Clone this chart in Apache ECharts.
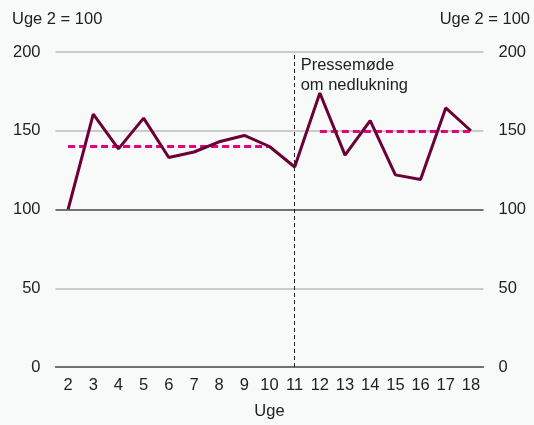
<!DOCTYPE html>
<html>
<head>
<meta charset="utf-8">
<script src="https://cdn.jsdelivr.net/npm/echarts@6/dist/echarts.min.js"></script>
<style>
html, body { margin: 0; padding: 0; background: #f8fafa; }
#chart { width: 534px; height: 425px; }
</style>
</head>
<body>
<div id="chart"></div>
<script>
// uger og indeks (uge 2 = 100)
var weeks = ['2', '3', '4', '5', '6', '7', '8', '9', '10', '11', '12', '13', '14', '15', '16', '17', '18'];
var index = [100, 160.5, 138.5, 158, 133, 136.5, 143, 147, 140, 127, 174, 134.5, 156.5, 122, 119, 164.5, 150];
// gennemsnit før og efter pressemødet
var avgBefore = [140, 140, 140, 140, 140, 140, 140, 140, 140, null, null, null, null, null, null, null, null];
var avgAfter = [null, null, null, null, null, null, null, null, null, null, 149.5, 149.5, 149.5, 149.5, 149.5, 149.5, 149.5];
var yTicks = [0, 50, 100, 150, 200];
var eventWeek = '11';
var eventLabel = 'Pressemøde\nom nedlukning';

var font = 'Liberation Sans, Arial, sans-serif';
var txt = '#222';
var fs = 16.5;

var chart = echarts.init(document.getElementById('chart'));

function yAxisCfg(pos) {
    return {
        type: 'value',
        position: pos,
        min: yTicks[0],
        max: yTicks[yTicks.length - 1],
        interval: 50,
        axisLine: { show: false },
        axisTick: { show: false },
        axisLabel: { margin: 15, color: txt, fontSize: fs, fontFamily: font },
        splitLine: { show: pos === 'left', lineStyle: { color: '#bbbbbb', width: 1.5 } }
    };
}

chart.setOption({
    backgroundColor: '#f8fafa',
    animation: false,
    grid: { left: 55.5, right: 50.5, top: 52, bottom: 55 },
    graphic: [
        { type: 'text', left: 12, top: 11, style: { text: 'Uge 2 = 100', fill: txt, font: fs + 'px ' + font } },
        { type: 'text', right: 4, top: 11, style: { text: 'Uge 2 = 100', fill: txt, font: fs + 'px ' + font } }
    ],
    xAxis: {
        type: 'category',
        data: weeks,
        boundaryGap: true,
        name: 'Uge',
        nameLocation: 'middle',
        nameGap: 36,
        nameTextStyle: { color: txt, fontSize: fs, fontFamily: font },
        axisLine: { lineStyle: { color: '#555', width: 1.5 } },
        axisTick: { length: 5, lineStyle: { color: '#555', width: 1.5 } },
        axisLabel: { margin: 10, color: txt, fontSize: fs, fontFamily: font, interval: 0 },
        splitLine: { show: false }
    },
    yAxis: [yAxisCfg('left'), yAxisCfg('right')],
    series: [
        {
            name: 'Indeks',
            type: 'line',
            data: index,
            symbol: 'none',
            lineStyle: { color: '#6b0036', width: 3 },
            z: 4,
            markLine: {
                silent: true,
                symbol: 'none',
                label: { show: false },
                data: [
                    { yAxis: 100, lineStyle: { color: '#555', width: 1.5, type: 'solid' } },
                    {
                        xAxis: eventWeek,
                        lineStyle: { color: '#222', width: 1, type: [4, 3] },
                        label: {
                            show: true,
                            position: 'insideEndBottom',
                            formatter: eventLabel,
                            color: txt,
                            fontSize: fs,
                            fontFamily: font,
                            lineHeight: 20,
                            align: 'left',
                            rotate: 0,
                            distance: 0,
                            offset: [6, 3]
                        }
                    }
                ]
            }
        },
        {
            name: 'Gns. før',
            type: 'line',
            data: avgBefore,
            symbol: 'none',
            lineStyle: { color: '#e5007d', width: 3, type: [7, 4] },
            z: 3
        },
        {
            name: 'Gns. efter',
            type: 'line',
            data: avgAfter,
            symbol: 'none',
            lineStyle: { color: '#e5007d', width: 3, type: [7, 4] },
            z: 3
        }
    ]
});
</script>
</body>
</html>
